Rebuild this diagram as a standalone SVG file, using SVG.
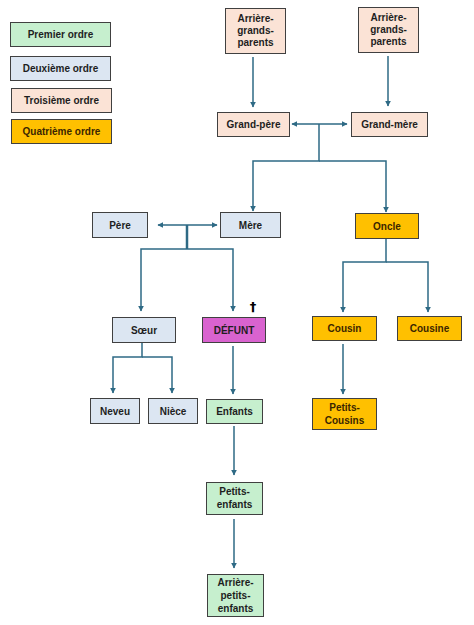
<svg xmlns="http://www.w3.org/2000/svg" width="474" height="625" viewBox="0 0 474 625">
<defs>
<marker id="ah" viewBox="0 0 10 10" refX="9" refY="5" markerWidth="6" markerHeight="6" markerUnits="userSpaceOnUse" orient="auto-start-reverse">
<path d="M0,0 L10,5 L0,10 Z" fill="#2e6a85"/>
</marker>
</defs>
<style>
.n rect{stroke:#404040;stroke-width:1}
.g{fill:#c6efce}
.b{fill:#dce6f2}
.p{fill:#fbe3d6}
.o{fill:#ffc000}
.m{fill:#d963cf}
text{font-family:"Liberation Sans",Arial,sans-serif;font-weight:bold;font-size:10px;fill:#1e1e1e;text-anchor:middle}
.ot{fill:#3b2600}
.c path{fill:none;stroke:#2e6a85;stroke-width:1.5}
</style>
<rect width="474" height="625" fill="#ffffff"/>
<g id="legend" class="n">
<g id="leg1"><rect class="g" x="10.5" y="22.5" width="100" height="24"/><text x="60.5" y="38">Premier ordre</text></g>
<g id="leg2"><rect class="b" x="10.5" y="56.5" width="100" height="24"/><text x="60.5" y="72">Deuxième ordre</text></g>
<g id="leg3"><rect class="p" x="11.5" y="88.5" width="100" height="24"/><text x="61.5" y="104">Troisième ordre</text></g>
<g id="leg4"><rect class="o" x="11.5" y="119.5" width="100" height="24"/><text class="ot" x="61.5" y="135">Quatrième ordre</text></g>
</g>
<g class="c" id="connectors">
<path d="M253,57 V107" marker-end="url(#ah)"/>
<path d="M388,56 V106" marker-end="url(#ah)"/>
<path d="M292,124 H347" marker-start="url(#ah)" marker-end="url(#ah)"/>
<path d="M319,124 V161 H253 V211" marker-end="url(#ah)"/>
<path d="M319,161 H386 V212" marker-end="url(#ah)"/>
<path d="M158,225 H217" marker-start="url(#ah)" marker-end="url(#ah)"/>
<path d="M187,225 V249" style="stroke-width:2.5"/>
<path d="M187,249 H141 V311" marker-end="url(#ah)"/>
<path d="M187,249 H233 V311" marker-end="url(#ah)"/>
<path d="M386,238 V262 H343 V312" marker-end="url(#ah)"/>
<path d="M386,262 H428 V312" marker-end="url(#ah)"/>
<path d="M142,342 V357 H113 V393" marker-end="url(#ah)"/>
<path d="M142,357 H172 V393" marker-end="url(#ah)"/>
<path d="M233,346 V394" marker-end="url(#ah)"/>
<path d="M343,344 V394" marker-end="url(#ah)"/>
<path d="M234,426 V475" marker-end="url(#ah)"/>
<path d="M234,519 V568" marker-end="url(#ah)"/>
</g>
<g class="n">
<g id="agp1"><rect class="p" x="225.5" y="8.5" width="60" height="45"/><text x="255.5" y="22">Arrière-</text><text x="255.5" y="34">grands-</text><text x="255.5" y="46">parents</text></g>
<g id="agp2"><rect class="p" x="358.5" y="7.5" width="60" height="45"/><text x="388.5" y="21">Arrière-</text><text x="388.5" y="33">grands-</text><text x="388.5" y="45">parents</text></g>
<g id="grandpere"><rect class="p" x="217.5" y="112.5" width="72" height="24"/><text x="253.5" y="128">Grand-père</text></g>
<g id="grandmere"><rect class="p" x="351.5" y="112.5" width="76" height="24"/><text x="389.5" y="128">Grand-mère</text></g>
<g id="pere"><rect class="b" x="92.5" y="212.5" width="55" height="25"/><text x="120" y="229">Père</text></g>
<g id="mere"><rect class="b" x="220.5" y="212.5" width="60" height="25"/><text x="250.5" y="229">Mère</text></g>
<g id="oncle"><rect class="o" x="355.5" y="213.5" width="63" height="25"/><text class="ot" x="387" y="230">Oncle</text></g>
<g id="soeur"><rect class="b" x="112.5" y="317.5" width="63" height="25"/><text x="144" y="334">Sœur</text></g>
<g id="defunt"><rect class="m" x="202.5" y="317.5" width="63" height="25"/><text x="234" y="334">DÉFUNT</text><text x="253" y="311" style="font-family:'DejaVu Sans',sans-serif;font-size:13px;fill:#000000">†</text></g>
<g id="cousin"><rect class="o" x="312.5" y="316.5" width="64" height="24"/><text class="ot" x="344.5" y="332">Cousin</text></g>
<g id="cousine"><rect class="o" x="397.5" y="316.5" width="64" height="24"/><text class="ot" x="429.5" y="332">Cousine</text></g>
<g id="neveu"><rect class="b" x="90.5" y="398.5" width="49" height="25"/><text x="115" y="415">Neveu</text></g>
<g id="niece"><rect class="b" x="148.5" y="398.5" width="49" height="25"/><text x="173" y="415">Nièce</text></g>
<g id="enfants"><rect class="g" x="206.5" y="399.5" width="56" height="24"/><text x="234.5" y="415">Enfants</text></g>
<g id="petitscousins"><rect class="o" x="312.5" y="398.5" width="64" height="31"/><text class="ot" x="344.5" y="411">Petits-</text><text class="ot" x="344.5" y="424">Cousins</text></g>
<g id="petitsenfants"><rect class="g" x="206.5" y="482.5" width="56" height="32"/><text x="234.5" y="495">Petits-</text><text x="234.5" y="508">enfants</text></g>
<g id="arrierepetitsenfants"><rect class="g" x="207.5" y="574.5" width="56" height="42"/><text x="235.5" y="586">Arrière-</text><text x="235.5" y="599">petits-</text><text x="235.5" y="612">enfants</text></g>
</g>
</svg>
